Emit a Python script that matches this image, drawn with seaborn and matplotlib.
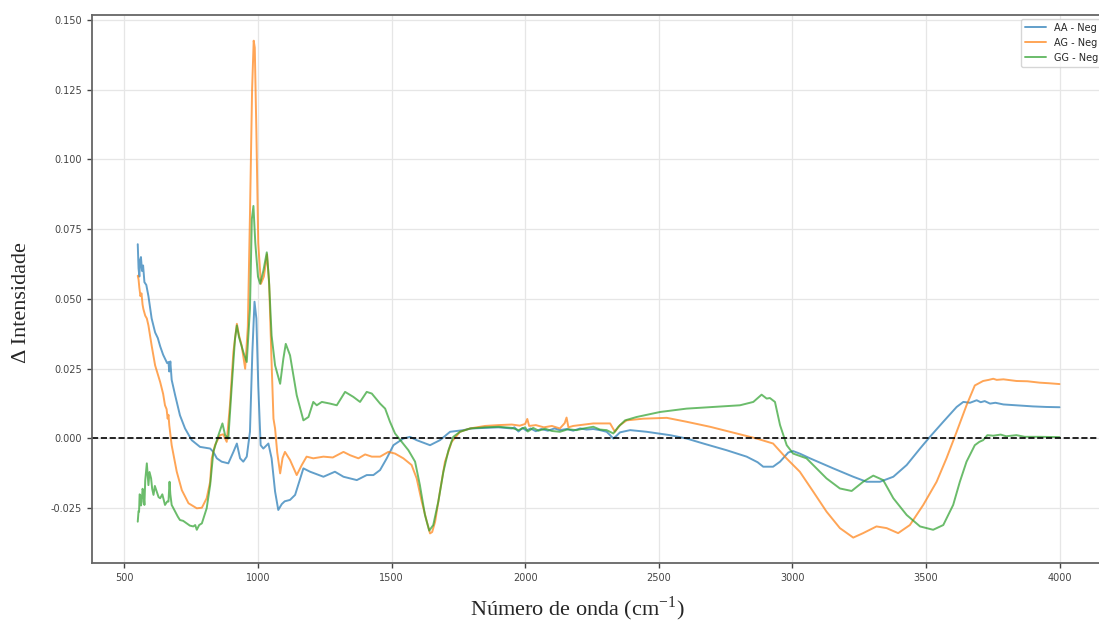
import numpy as np
import pandas as pd
import seaborn as sns
import matplotlib
matplotlib.use("Agg")
import matplotlib.pyplot as plt

# Difference spectra (sample minus negative control)
aa_wn = [550, 553, 556, 559, 562, 566, 570, 575, 582, 590, 602, 615, 625, 634, 645, 652, 660, 665, 668, 672,
         677, 690, 708, 727, 752, 783, 821, 833, 846, 864, 889, 908, 921, 933, 945, 958, 970, 979, 987, 994,
         1001, 1010, 1020, 1039, 1051, 1064, 1076, 1089, 1100, 1120, 1139, 1170, 1195, 1245, 1288, 1320, 1370,
         1407, 1432, 1457, 1482, 1507, 1544, 1569, 1594, 1644, 1681, 1719, 1769, 1800, 1850, 1900, 1950, 1960,
         1975, 1990, 2005, 2020, 2040, 2060, 2085, 2110, 2130, 2155, 2180, 2206, 2230, 2255, 2280, 2305, 2318,
         2330, 2340, 2355, 2374, 2393, 2455, 2542, 2604, 2667, 2754, 2829, 2870, 2891, 2928, 2954, 2985, 3003,
         3030, 3066, 3153, 3228, 3278, 3328, 3378, 3428, 3478, 3515, 3565, 3615, 3640, 3665, 3690, 3705, 3720,
         3740, 3760, 3790, 3839, 3900, 3950, 4000]
aa_val = [0.0696, 0.061, 0.058, 0.064, 0.065, 0.060, 0.062, 0.056, 0.055, 0.051, 0.043, 0.038, 0.036, 0.033,
          0.030, 0.0286, 0.027, 0.0274, 0.024, 0.0276, 0.021, 0.0155, 0.0083, 0.0036, -0.0006, -0.003, -0.0036,
          -0.0048, -0.0071, -0.0083, -0.0089, -0.0048, -0.0018, -0.0071, -0.0083, -0.0065, 0.0024, 0.031, 0.049,
          0.043, 0.019, -0.0024, -0.0036, -0.0018, -0.0071, -0.019, -0.0256, -0.0235, -0.0225, -0.022, -0.0202,
          -0.0107, -0.0119, -0.0137, -0.0119, -0.0137, -0.0149, -0.0131, -0.0131, -0.0113, -0.0071, -0.0024,
          0.0, 0.0006, -0.0006, -0.0024, -0.0006, 0.0024, 0.003, 0.0036, 0.0038, 0.004, 0.0036, 0.004, 0.0025,
          0.0038, 0.0028, 0.0036, 0.0026, 0.0034, 0.0028, 0.0036, 0.003, 0.0034, 0.0028, 0.0036, 0.0032, 0.0034,
          0.003, 0.0024, 0.0012, 0.0, 0.0008, 0.0022, 0.0026, 0.003, 0.0024, 0.0012, 0.0, -0.0018, -0.0042,
          -0.0065, -0.0085, -0.0101, -0.0101, -0.0083, -0.005, -0.0045, -0.0055, -0.0071, -0.0107, -0.0137,
          -0.0155, -0.0155, -0.0137, -0.0095, -0.0036, 0.0006, 0.006, 0.0113, 0.0131, 0.0128, 0.0137, 0.013,
          0.0134, 0.0125, 0.0128, 0.0122, 0.0119, 0.0115, 0.0113, 0.0112]

ag_wn = [550, 553, 556, 560, 564, 568, 571, 578, 584, 590, 602, 615, 634, 645, 652, 658, 662, 665, 668, 677,
         696, 715, 740, 771, 790, 808, 821, 827, 839, 858, 870, 883, 895, 908, 921, 929, 939, 952, 962, 970,
         978, 984, 988, 994, 1001, 1011, 1022, 1034, 1042, 1050, 1058, 1064, 1072, 1083, 1092, 1101, 1120,
         1145, 1164, 1182, 1207, 1245, 1280, 1320, 1345, 1376, 1401, 1426, 1457, 1488, 1513, 1544, 1575, 1594,
         1613, 1632, 1644, 1652, 1663, 1681, 1700, 1725, 1756, 1794, 1850, 1900, 1950, 1980, 2000, 2008, 2015,
         2040, 2070, 2100, 2130, 2148, 2155, 2162, 2180, 2206, 2255, 2318, 2336, 2355, 2380, 2442, 2530, 2604,
         2692, 2792, 2866, 2928, 2978, 3028, 3078, 3128, 3178, 3228, 3265, 3315, 3353, 3396, 3440, 3490, 3540,
         3577, 3615, 3652, 3683, 3714, 3735, 3752, 3765, 3790, 3839, 3880, 3926, 3960, 4000]
ag_val = [0.0583, 0.057, 0.054, 0.051, 0.052, 0.048, 0.0464, 0.044, 0.043, 0.0405, 0.0333, 0.0262, 0.0202,
          0.016, 0.0119, 0.0105, 0.0071, 0.0085, 0.0048, -0.0024, -0.0119, -0.0185, -0.0232, -0.025, -0.0248,
          -0.0214, -0.0155, -0.0071, -0.0024, 0.0012, 0.0015, -0.0012, 0.0119, 0.031, 0.0411, 0.0369, 0.0333,
          0.025, 0.04, 0.08, 0.125, 0.1425, 0.140, 0.11, 0.07, 0.0554, 0.058, 0.066, 0.055, 0.03, 0.0071, 0.0036,
          -0.005, -0.0125, -0.007, -0.0048, -0.0077, -0.0131, -0.0095, -0.0065, -0.0071, -0.0065, -0.0068,
          -0.0048, -0.006, -0.0071, -0.0057, -0.0065, -0.0065, -0.0048, -0.0054, -0.0071, -0.0095, -0.0143,
          -0.0226, -0.0298, -0.034, -0.0335, -0.0298, -0.019, -0.0083, -0.0012, 0.0024, 0.0036, 0.0045, 0.0048,
          0.005, 0.0046, 0.0052, 0.007, 0.0045, 0.0048, 0.004, 0.0045, 0.0036, 0.0055, 0.0075, 0.004, 0.0045,
          0.0048, 0.0054, 0.0054, 0.0024, 0.0048, 0.0065, 0.0071, 0.0074, 0.006, 0.0042, 0.0018, 0.0, -0.0018,
          -0.0071, -0.0119, -0.019, -0.0262, -0.0321, -0.0355, -0.0339, -0.0315, -0.0321, -0.0339, -0.031,
          -0.0238, -0.0155, -0.0071, 0.0024, 0.0119, 0.019, 0.0206, 0.021, 0.0214, 0.021, 0.0212, 0.0206,
          0.0205, 0.02, 0.0198, 0.0195]

gg_wn = [550, 553, 555, 557, 559, 562, 565, 568, 571, 575, 578, 584, 587, 590, 594, 600, 604, 609, 614, 621,
         628, 634, 642, 652, 660, 665, 669, 672, 677, 690, 700, 708, 720, 733, 745, 758, 765, 771, 780, 790,
         808, 821, 833, 852, 867, 877, 889, 902, 914, 921, 929, 945, 958, 970, 977, 983, 990, 1000, 1008, 1020,
         1033, 1041, 1051, 1064, 1083, 1095, 1104, 1120, 1145, 1170, 1189, 1207, 1220, 1239, 1270, 1295, 1326,
         1357, 1382, 1407, 1426, 1457, 1476, 1494, 1513, 1538, 1563, 1588, 1606, 1625, 1641, 1656, 1675, 1694,
         1713, 1731, 1756, 1794, 1850, 1900, 1950, 1975, 2000, 2010, 2030, 2050, 2075, 2100, 2130, 2160, 2193,
         2220, 2255, 2280, 2305, 2330, 2349, 2374, 2417, 2505, 2604, 2704, 2804, 2854, 2885, 2904, 2916, 2935,
         2954, 2979, 3003, 3053, 3128, 3178, 3222, 3265, 3303, 3340, 3378, 3428, 3478, 3527, 3565, 3602, 3627,
         3652, 3683, 3700, 3714, 3730, 3752, 3780, 3800, 3839, 3870, 3926, 4000]
gg_val = [-0.0298, -0.026, -0.0262, -0.020, -0.0202, -0.024, -0.0226, -0.018, -0.019, -0.0238, -0.015,
          -0.0089, -0.013, -0.0167, -0.012, -0.0143, -0.018, -0.0202, -0.017, -0.019, -0.021, -0.0214, -0.020,
          -0.0238, -0.0226, -0.0226, -0.0155, -0.020, -0.0238, -0.0262, -0.028, -0.0292, -0.0295, -0.0304,
          -0.0312, -0.0315, -0.031, -0.0327, -0.031, -0.0304, -0.025, -0.0167, -0.0048, 0.0012, 0.0054, 0.0012,
          0.0, 0.019, 0.0357, 0.0405, 0.0363, 0.031, 0.0274, 0.0464, 0.0786, 0.0833, 0.07, 0.058, 0.0554, 0.060,
          0.0667, 0.0571, 0.0369, 0.0262, 0.0196, 0.0286, 0.0339, 0.0298, 0.0155, 0.0065, 0.0077, 0.0131,
          0.0119, 0.0131, 0.0125, 0.0119, 0.0167, 0.0149, 0.0131, 0.0167, 0.0161, 0.0125, 0.0107, 0.006, 0.0018,
          -0.0012, -0.0042, -0.0083, -0.0167, -0.0274, -0.033, -0.031, -0.0226, -0.0119, -0.0042, 0.0006,
          0.0024, 0.0036, 0.004, 0.0042, 0.0038, 0.003, 0.004, 0.0025, 0.0038, 0.0028, 0.0035, 0.0027, 0.0024,
          0.0033, 0.003, 0.0036, 0.0042, 0.0032, 0.003, 0.0018, 0.0042, 0.0065, 0.0077, 0.0095, 0.0107, 0.0113,
          0.0119, 0.0131, 0.0157, 0.0143, 0.0145, 0.0131, 0.0048, -0.0024, -0.0054, -0.0071, -0.0143, -0.0179,
          -0.0188, -0.0155, -0.0133, -0.0149, -0.0214, -0.0274, -0.0315, -0.0327, -0.031, -0.0238, -0.0155,
          -0.0083, -0.0024, -0.0012, -0.0006, 0.0012, 0.001, 0.0014, 0.0008, 0.0012, 0.0006, 0.0006, 0.0005]

series_labels = ["AA - Neg", "AG - Neg", "GG - Neg"]
series_colors = ["#1f77b4", "#ff7f0e", "#2ca02c"]

sns.set_style("ticks")
plt.rcParams["font.family"] = ["DejaVu Sans"]
plt.rcParams["mathtext.fontset"] = "stix"

fig = plt.figure(figsize=(10.99, 6.23), dpi=100)
ax = fig.add_axes([0.0834, 0.0963, 0.9226, 0.8796])

for wn, val, lab, col in zip([aa_wn, ag_wn, gg_wn], [aa_val, ag_val, gg_val], series_labels, series_colors):
    df = pd.DataFrame({"wn": wn, "val": val})
    sns.lineplot(data=df, x="wn", y="val", ax=ax, color=col, alpha=0.7, linewidth=1.4, label=lab)

ax.axhline(0, color="black", linestyle="--", linewidth=1.2)

ax.set_xlim(377.5, 4172.5)
ax.set_ylim(-0.0446, 0.1517)
ax.set_xticks([500, 1000, 1500, 2000, 2500, 3000, 3500, 4000])
ax.set_yticks([-0.025, 0.0, 0.025, 0.05, 0.075, 0.1, 0.125, 0.15])
ax.yaxis.set_major_formatter(matplotlib.ticker.FormatStrFormatter("%.3f"))
ax.tick_params(labelsize=7, colors="#444444", length=3.5, width=1)
ax.grid(True, color="#e6e6e6", linewidth=0.9)
ax.set_axisbelow(True)
for sp in ax.spines.values():
    sp.set_color("#666666")
    sp.set_linewidth(1.3)
ax.set_xlabel("")
ax.set_ylabel("")

leg = ax.legend(loc="upper left", bbox_to_anchor=(1021 / 1099, 1 - 19 / 623),
                bbox_transform=fig.transFigure, fontsize=7, frameon=True,
                handlelength=2.2, borderaxespad=0)
leg.get_frame().set_edgecolor("#cccccc")

fig.text(577 / 1099, 1 - 609 / 623, "Número de onda (cm$^{\\mathregular{-1}}$)", ha="center", va="center",
         fontsize=16, family="Liberation Serif")
fig.text(22 / 1099, 1 - 303 / 623, "Δ Intensidade", ha="center", va="center", rotation=90,
         fontsize=16, family="Liberation Serif")

fig.savefig("out.png", dpi=100)
